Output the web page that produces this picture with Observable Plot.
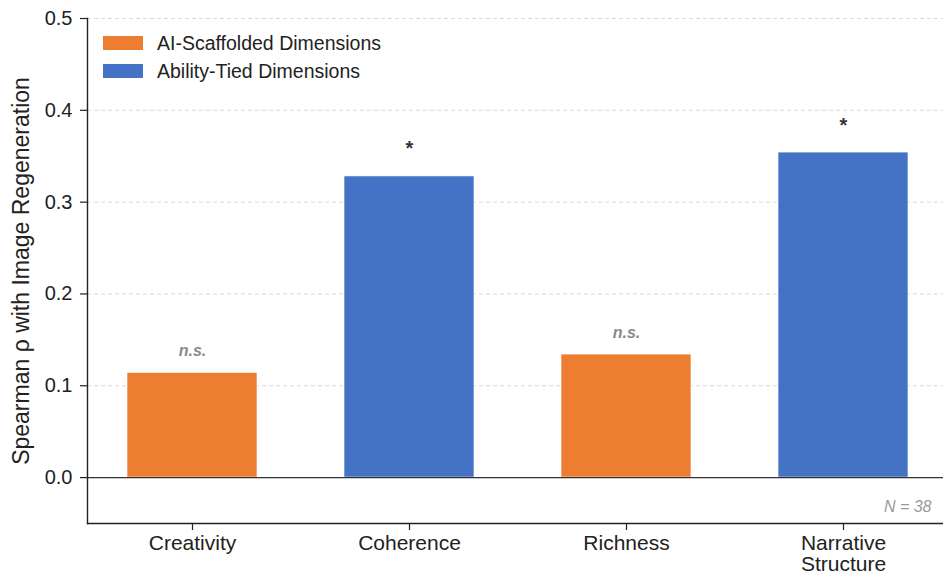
<!DOCTYPE html>
<html>
<head>
<meta charset="utf-8">
<script src="https://cdn.jsdelivr.net/npm/d3@7"></script>
<script src="https://cdn.jsdelivr.net/npm/@observablehq/plot@0.6"></script>
<style>
  html, body { margin: 0; padding: 0; background: #fff; overflow: hidden; }
  #wrap { position: relative; width: 943px; height: 578px; font-family: "Liberation Sans", Arial, sans-serif; }
  .legend { position: absolute; left: 103px; top: 29px; color: #222; font-size: 19.5px; }
  .legend .item { display: flex; align-items: center; height: 28px; }
  .legend .sw { width: 40px; height: 14px; margin-right: 14px; }
</style>
</head>
<body>
<div id="wrap"></div>
<script>
const categories = ["Creativity", "Coherence", "Richness", "Narrative Structure"];
const rhoValues = [0.114, 0.328, 0.134, 0.354];
const groups = ["AI-Scaffolded Dimensions", "Ability-Tied Dimensions", "AI-Scaffolded Dimensions", "Ability-Tied Dimensions"];
const significance = ["n.s.", "*", "n.s.", "*"];
const groupNames = ["AI-Scaffolded Dimensions", "Ability-Tied Dimensions"];
const groupColors = ["#ED7D31", "#4472C4"];
const yTicks = [0, 0.1, 0.2, 0.3, 0.4, 0.5];
const sampleNote = "N = 38";
const yLabel = "Spearman \u03c1 with Image Regeneration";

const data = categories.map((c, i) => ({name: c, value: rhoValues[i], group: groups[i], sig: significance[i]}));

const chart = Plot.plot({
  width: 943,
  height: 578,
  marginLeft: 87,
  marginRight: 0,
  marginTop: 18,
  marginBottom: 55,
  style: {fontFamily: "Liberation Sans, Arial, sans-serif", color: "#222", background: "white"},
  x: {domain: categories, range: [87, 949], paddingInner: 0.4, paddingOuter: 0.18},
  y: {domain: [-0.05, 0.5]},
  color: {domain: groupNames, range: groupColors},
  marks: [
    Plot.gridY(yTicks.slice(1), {stroke: "#d0d0d0", strokeOpacity: 1, strokeDasharray: "4,3", strokeWidth: 0.8}),
    Plot.barY(data, {x: "name", y: "value", fill: "group", stroke: "white", strokeWidth: 0.8, strokeOpacity: 0.8}),
    Plot.ruleY([0], {stroke: "#333", strokeWidth: 1.2}),
    Plot.text(data.filter(d => d.sig === "n.s."), {x: "name", y: "value", text: "sig", dy: -17, lineAnchor: "bottom",
      fontSize: 16, fontStyle: "italic", fontWeight: "bold", fill: "#8a8a8a"}),
    Plot.text(data.filter(d => d.sig !== "n.s."), {x: "name", y: "value", text: "sig", dy: -21, lineAnchor: "bottom",
      fontSize: 20, fontWeight: "bold", fill: "#333"}),
    Plot.text([sampleNote], {frameAnchor: "bottom-right", dx: -12, dy: -12, lineAnchor: "bottom",
      fontSize: 16, fontStyle: "italic", fill: "#9a9a9a"}),
    Plot.axisY({ticks: yTicks, tickFormat: ".1f", tickSize: 7, tickPadding: 8, fontSize: 20, label: null, stroke: "#222", strokeWidth: 1.2}),
    Plot.axisX({tickSize: 7, tickPadding: 5, fontSize: 21, lineHeight: 1.0, label: null, stroke: "#222", strokeWidth: 1.2,
      tickFormat: d => d.replace(" ", "\n")}),
    Plot.text([yLabel], {frameAnchor: "left", dx: -66, rotate: -90, textAnchor: "middle", fontSize: 23, fill: "#222"}),
    Plot.frame({anchor: "left", stroke: "#222", strokeWidth: 1.4}),
    Plot.frame({anchor: "bottom", stroke: "#222", strokeWidth: 1.4})
  ]
});

const wrap = document.getElementById("wrap");
wrap.appendChild(chart);

const legend = document.createElement("div");
legend.className = "legend";
groupNames.forEach((g, i) => {
  const item = document.createElement("div");
  item.className = "item";
  const sw = document.createElement("div");
  sw.className = "sw";
  sw.style.background = groupColors[i];
  const label = document.createElement("span");
  label.textContent = g;
  item.appendChild(sw);
  item.appendChild(label);
  legend.appendChild(item);
});
wrap.appendChild(legend);
</script>
</body>
</html>
